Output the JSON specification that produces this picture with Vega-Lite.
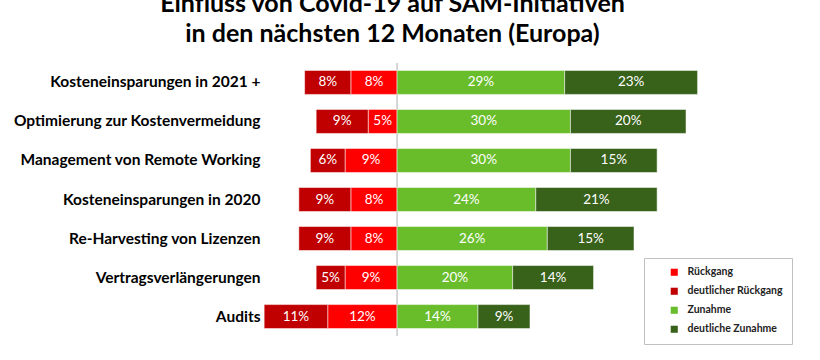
{
  "$schema": "https://vega.github.io/schema/vega-lite/v6.json",
  "width": 549,
  "height": 273,
  "autosize": "none",
  "padding": {"left": 263, "top": 63, "right": 8, "bottom": 24},
  "background": "white",
  "title": {
    "text": ["Einfluss von Covid-19 auf SAM-Initiativen", "in den nächsten 12 Monaten (Europa)"],
    "font": "Lato",
    "fontSize": 25,
    "fontWeight": "bold",
    "color": "#000000",
    "anchor": "middle",
    "dx": -145,
    "offset": 15,
    "lineHeight": 30
  },
  "config": {"view": {"stroke": null}},
  "data": {
    "values": [
      {"item": "Kosteneinsparungen in 2021 +", "cat": "Rückgang", "rank": 1, "value": -8},
      {"item": "Kosteneinsparungen in 2021 +", "cat": "deutlicher Rückgang", "rank": 2, "value": -8},
      {"item": "Kosteneinsparungen in 2021 +", "cat": "Zunahme", "rank": 1, "value": 29},
      {"item": "Kosteneinsparungen in 2021 +", "cat": "deutliche Zunahme", "rank": 2, "value": 23},
      {"item": "Optimierung zur Kostenvermeidung", "cat": "Rückgang", "rank": 1, "value": -5},
      {"item": "Optimierung zur Kostenvermeidung", "cat": "deutlicher Rückgang", "rank": 2, "value": -9},
      {"item": "Optimierung zur Kostenvermeidung", "cat": "Zunahme", "rank": 1, "value": 30},
      {"item": "Optimierung zur Kostenvermeidung", "cat": "deutliche Zunahme", "rank": 2, "value": 20},
      {"item": "Management von Remote Working", "cat": "Rückgang", "rank": 1, "value": -9},
      {"item": "Management von Remote Working", "cat": "deutlicher Rückgang", "rank": 2, "value": -6},
      {"item": "Management von Remote Working", "cat": "Zunahme", "rank": 1, "value": 30},
      {"item": "Management von Remote Working", "cat": "deutliche Zunahme", "rank": 2, "value": 15},
      {"item": "Kosteneinsparungen in 2020", "cat": "Rückgang", "rank": 1, "value": -8},
      {"item": "Kosteneinsparungen in 2020", "cat": "deutlicher Rückgang", "rank": 2, "value": -9},
      {"item": "Kosteneinsparungen in 2020", "cat": "Zunahme", "rank": 1, "value": 24},
      {"item": "Kosteneinsparungen in 2020", "cat": "deutliche Zunahme", "rank": 2, "value": 21},
      {"item": "Re-Harvesting von Lizenzen", "cat": "Rückgang", "rank": 1, "value": -8},
      {"item": "Re-Harvesting von Lizenzen", "cat": "deutlicher Rückgang", "rank": 2, "value": -9},
      {"item": "Re-Harvesting von Lizenzen", "cat": "Zunahme", "rank": 1, "value": 26},
      {"item": "Re-Harvesting von Lizenzen", "cat": "deutliche Zunahme", "rank": 2, "value": 15},
      {"item": "Vertragsverlängerungen", "cat": "Rückgang", "rank": 1, "value": -9},
      {"item": "Vertragsverlängerungen", "cat": "deutlicher Rückgang", "rank": 2, "value": -5},
      {"item": "Vertragsverlängerungen", "cat": "Zunahme", "rank": 1, "value": 20},
      {"item": "Vertragsverlängerungen", "cat": "deutliche Zunahme", "rank": 2, "value": 14},
      {"item": "Audits", "cat": "Rückgang", "rank": 1, "value": -12},
      {"item": "Audits", "cat": "deutlicher Rückgang", "rank": 2, "value": -11},
      {"item": "Audits", "cat": "Zunahme", "rank": 1, "value": 14},
      {"item": "Audits", "cat": "deutliche Zunahme", "rank": 2, "value": 9}
    ]
  },
  "layer": [
    {
      "data": {"values": [{}]},
      "mark": {"type": "rule", "color": "#c8c8c8", "strokeWidth": 1.5},
      "encoding": {
        "x": {"datum": 0, "type": "quantitative", "scale": {"domain": [-23.2, 71.8], "nice": false}, "axis": null}
      }
    },
    {
      "transform": [
        {"stack": "value", "groupby": ["item"], "sort": [{"field": "rank", "order": "ascending"}], "as": ["x0", "x1"], "offset": "zero"},
        {"calculate": "(datum.x0 + datum.x1) / 2", "as": "mid"},
        {"calculate": "abs(datum.value) + '%'", "as": "label"}
      ],
      "encoding": {
        "y": {
          "field": "item",
          "type": "nominal",
          "sort": ["Kosteneinsparungen in 2021 +", "Optimierung zur Kostenvermeidung", "Management von Remote Working", "Kosteneinsparungen in 2020", "Re-Harvesting von Lizenzen", "Vertragsverlängerungen", "Audits"],
          "scale": {"paddingInner": 0.385, "paddingOuter": 0.19},
          "axis": {"title": null, "domain": false, "ticks": false, "labelPadding": 3, "labelFont": "Lato", "labelFontSize": 15.5, "labelFontWeight": "bold", "labelColor": "#000000", "labelLimit": 300}
        }
      },
      "layer": [
        {
          "mark": {"type": "bar", "stroke": "#ffffff", "strokeOpacity": 0.5, "strokeWidth": 1},
          "encoding": {
            "x": {"field": "x0", "type": "quantitative", "scale": {"domain": [-23.2, 71.8], "nice": false}, "axis": null},
            "x2": {"field": "x1"},
            "color": {
              "field": "cat",
              "type": "nominal",
              "scale": {"domain": ["Rückgang", "deutlicher Rückgang", "Zunahme", "deutliche Zunahme"], "range": ["#FF0000", "#C00000", "#69BD2B", "#38611A"]},
              "legend": {
                "title": null,
                "orient": "none",
                "legendX": 381,
                "legendY": 195,
                "strokeColor": "#c0c0c0",
                "fillColor": "#ffffff",
                "padding": 9,
                "symbolType": "square",
                "symbolSize": 50,
                "symbolStrokeWidth": 0,
                "symbolOffset": 16,
                "labelOffset": 8,
                "rowPadding": 8,
                "labelFont": "Lato",
                "labelFontSize": 10.5,
                "labelFontWeight": "bold",
                "labelColor": "#222222"
              }
            }
          }
        },
        {
          "mark": {"type": "text", "color": "#ffffff", "font": "Lato", "fontSize": 13.5, "baseline": "middle", "align": "center"},
          "encoding": {
            "x": {"field": "mid", "type": "quantitative"},
            "text": {"field": "label"}
          }
        }
      ]
    }
  ]
}
